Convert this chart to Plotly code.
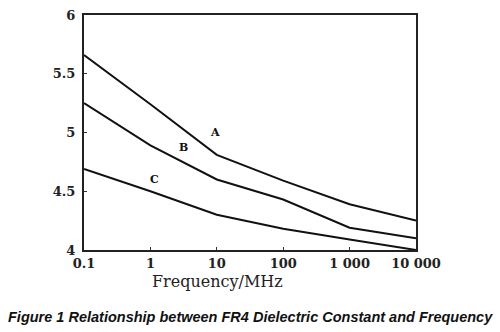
import math
import plotly.graph_objects as go

freq = [0.1, 1, 10, 100, 1000, 10000]
curve_a = [5.66, 5.24, 4.81, 4.59, 4.39, 4.25]
curve_b = [5.25, 4.89, 4.60, 4.43, 4.19, 4.10]
curve_c = [4.69, 4.50, 4.30, 4.18, 4.09, 4.00]
labels = ["A", "B", "C"]
label_x = [9.3, 3.1, 1.17]
label_y = [5.0, 4.87, 4.60]
x_tickvals = [0.1, 1, 10, 100, 1000, 10000]
x_ticktext = ["0.1", "1", "10", "100", "1 000", "10 000"]
y_tickvals = [4, 4.5, 5, 5.5, 6]
y_ticktext = ["4", "4.5", "5", "5.5", "6"]

fig = go.Figure()
for ys in (curve_a, curve_b, curve_c):
    fig.add_trace(go.Scatter(x=freq, y=ys, mode="lines",
                             line=dict(color="#111111", width=2),
                             showlegend=False, hoverinfo="skip"))

for t, lx, ly in zip(labels, label_x, label_y):
    fig.add_annotation(x=math.log10(lx), y=ly, xref="x", yref="y", text=t, showarrow=False,
                       font=dict(family="DejaVu Serif", size=11, color="#111111", weight="bold"))

axis_common = dict(showgrid=False, zeroline=False, showline=True, linecolor="#222222",
                   linewidth=2, mirror=True, ticks="inside", ticklen=3,
                   tickcolor="#333333", tickwidth=1,
                   tickfont=dict(family="DejaVu Serif", size=13, color="#222222", weight="bold"))

fig.update_xaxes(type="log", range=[-1, 4], tickvals=x_tickvals, ticktext=x_ticktext,
                 ticklabelstandoff=0, **axis_common)
fig.update_yaxes(range=[4, 6], tickvals=y_tickvals, ticktext=y_ticktext,
                 ticklabelstandoff=4, **axis_common)

L, R, T, B = 84, 84, 8, 82
W, H = 500, 332
pw, ph = W - L - R, H - T - B


def px_to_paper(px, py):
    return (px - L) / pw, (H - B - py) / ph


ax, ay = px_to_paper(217, 282)
fig.add_annotation(x=ax, y=ay, xref="paper", yref="paper", text="Frequency/MHz",
                   showarrow=False, yanchor="middle",
                   font=dict(family="DejaVu Serif", size=16, color="#222222"))

tx, ty = px_to_paper(250, 319)
fig.add_annotation(x=tx, y=ty, xref="paper", yref="paper",
                   text="<i><b>Figure 1 Relationship between FR4 Dielectric Constant and Frequency</b></i>",
                   showarrow=False, yanchor="middle",
                   font=dict(family="Liberation Sans", size=14.5, color="#111111"))

fig.update_layout(
    width=W, height=H,
    margin=dict(l=L, r=R, t=T, b=B),
    paper_bgcolor="white", plot_bgcolor="white",
)

fig.write_html("out.html")
